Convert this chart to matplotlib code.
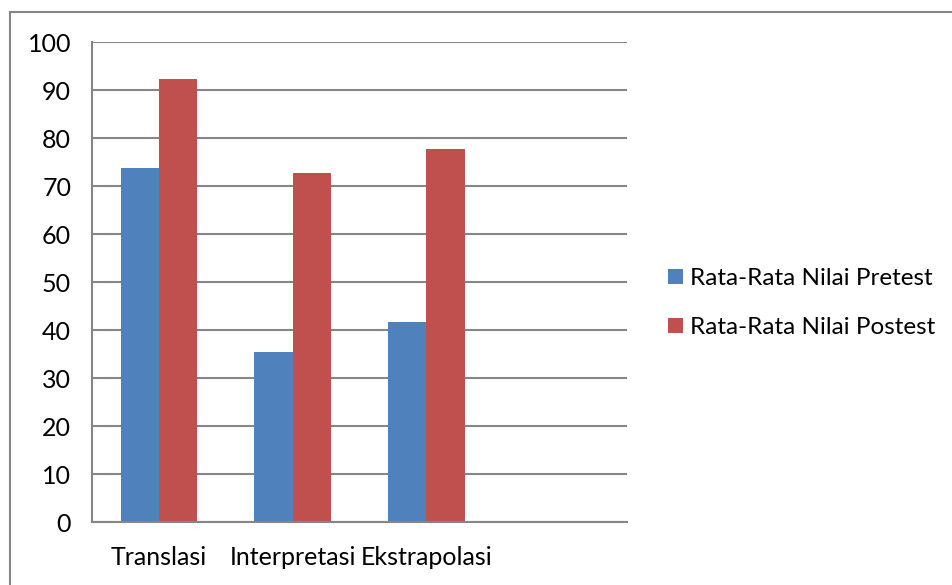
import matplotlib.pyplot as plt
import numpy as np
from matplotlib.patches import Rectangle, Patch

categories = ['Translasi', 'Interpretasi', 'Ekstrapolasi', '']
pretest = [73.7, 35.5, 41.7, 0]
postest = [92.2, 72.7, 77.8, 0]
series_names = ['Rata-Rata Nilai Pretest', 'Rata-Rata Nilai Postest']
yticks = list(range(0, 101, 10))

blue = '#4F81BD'
red = '#C0504D'
grey = '#868686'

plt.rcParams['font.family'] = ['Lato', 'DejaVu Sans']

W, H = 952, 585
fig = plt.figure(figsize=(W / 100, H / 100), dpi=100)

# chart frame (runs off the right and bottom edges)
fig.patches.append(Rectangle((10 / W, -0.1), 1.2, 1.1 - 12 / H, transform=fig.transFigure,
                             fill=False, edgecolor=grey, linewidth=1.5))

ax = fig.add_axes([92 / W, (H - 522) / H, 535 / W, 480 / H])

x = np.arange(len(categories))
bw = 1 / 3.5  # gap width 150%
ax.bar(x - bw / 2, pretest, bw, color=blue, label=series_names[0])
ax.bar(x + bw / 2, postest, bw, color=red, label=series_names[1])

ax.set_xlim(-0.5, len(categories) - 0.5)
ax.set_ylim(0, 100)
ax.set_yticks(yticks)
ax.set_xticks(x[:3])
ax.set_xticklabels(categories[:3])
ax.tick_params(axis='both', length=0, labelsize=18, colors='black')
ax.tick_params(axis='y', pad=15)
ax.tick_params(axis='x', pad=17)
ax.yaxis.grid(True, color=grey, linewidth=1.5)
ax.set_axisbelow(True)
for s in ['top', 'right']:
    ax.spines[s].set_visible(False)
for s in ['left', 'bottom']:
    ax.spines[s].set_color(grey)
    ax.spines[s].set_linewidth(1.5)

handles = [Patch(facecolor=blue), Patch(facecolor=red)]
fig.legend(handles, series_names, loc='center left', bbox_to_anchor=(656 / W, 1 - 303 / H),
           frameon=False, fontsize=17.5, handlelength=0.6, handleheight=0.6,
           handletextpad=0.3, labelspacing=1.15, borderpad=0)

fig.savefig('out.png', dpi=100)
